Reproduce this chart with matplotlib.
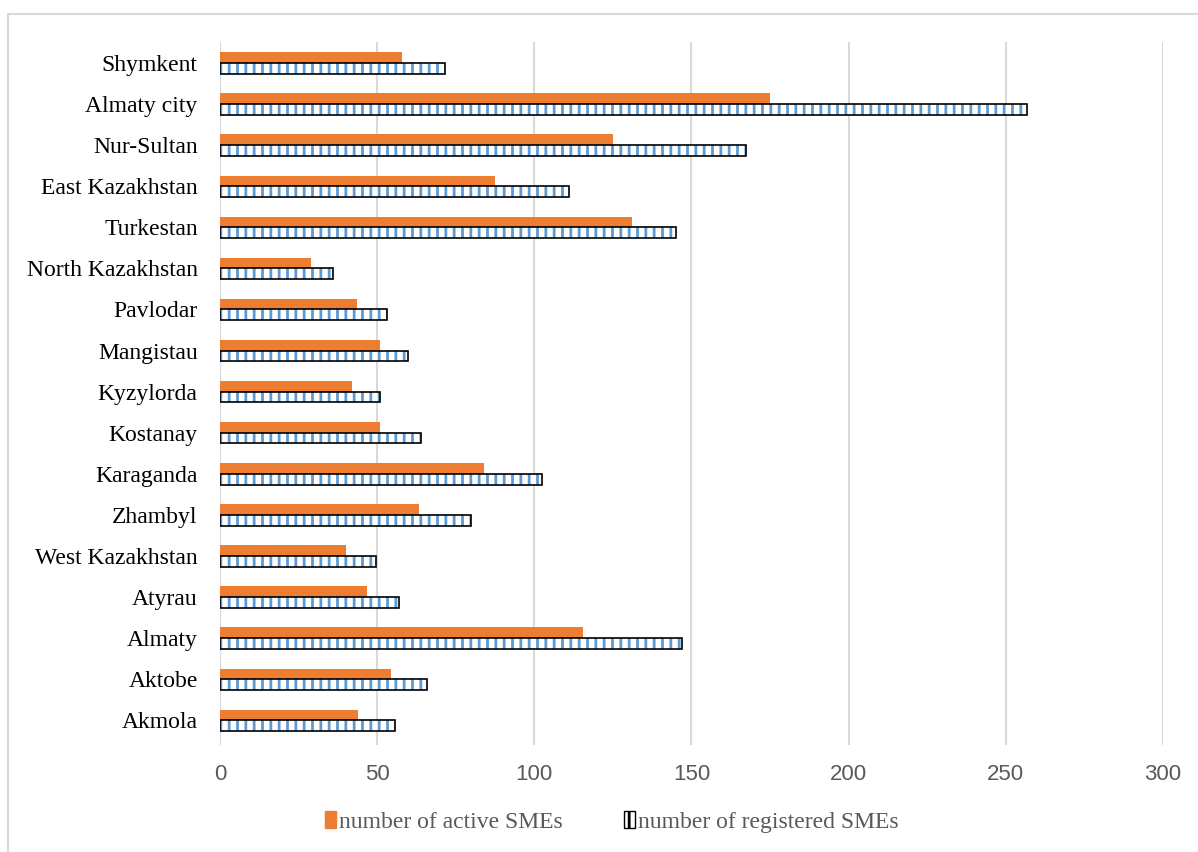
"""
Active vs registered SMEs by region of Kazakhstan, horizontal bar chart.
"""

import matplotlib
matplotlib.use("Agg")
import matplotlib.pyplot as plt
from matplotlib.patches import Patch, Rectangle
import numpy as np


REGIONS = [
    "Akmola", "Aktobe", "Almaty", "Atyrau", "West Kazakhstan", "Zhambyl",
    "Karaganda", "Kostanay", "Kyzylorda", "Mangistau", "Pavlodar",
    "North Kazakhstan", "Turkestan", "East Kazakhstan", "Nur-Sultan",
    "Almaty city", "Shymkent",
]
ACTIVE = [44, 54.4, 115.6, 46.7, 40, 63.2, 84, 51, 42.1, 51, 43.7,
          28.9, 131, 87.5, 125, 175, 58]
REGISTERED = [55.7, 66, 147.1, 57, 49.6, 80, 102.5, 64, 51, 59.7, 53,
              36, 145, 111, 167.5, 256.6, 71.6]
XTICKS = [0, 50, 100, 150, 200, 250, 300]

ORANGE = "#ED7D31"
BLUE = "#5B9BD5"
GRID = "#D9D9D9"
TEXT = "#595959"


def main():
    plt.rcParams["hatch.linewidth"] = 2.0

    fig = plt.figure(figsize=(11.98, 8.52), dpi=100)
    ax = fig.add_axes([0.1836, 0.1256, 0.7872, 0.8251])

    # light outer frame like the office chart area
    fig.patches.append(Rectangle((8 / 1198, -0.01), 1.0, 1 - 14 / 852 + 0.01,
                                 transform=fig.transFigure, fill=False,
                                 edgecolor=GRID, linewidth=1.5))

    y = np.arange(len(REGIONS))
    h = 0.26

    ax.barh(y + h / 2, ACTIVE, height=h, color=ORANGE, zorder=3)
    # hatched registered bars: blue hatch on white, black outline on top
    ax.barh(y - h / 2, REGISTERED, height=h, facecolor="white",
            edgecolor=BLUE, hatch="||", linewidth=0, zorder=3)
    ax.barh(y - h / 2, REGISTERED, height=h, fill=False,
            edgecolor="black", linewidth=1.2, zorder=4)

    ax.set_xlim(0, 300)
    ax.set_ylim(-0.6, 16.51)
    ax.set_xticks(XTICKS)
    ax.set_yticks(y)
    ax.set_yticklabels(REGIONS, fontfamily="Liberation Serif",
                       fontsize=17, color="black")
    ax.tick_params(axis="x", length=0, pad=14, labelsize=16,
                   labelcolor=TEXT)
    ax.tick_params(axis="y", length=0, pad=16)
    for lab in ax.get_xticklabels():
        lab.set_fontfamily("Liberation Sans")

    ax.grid(axis="x", color=GRID, linewidth=1.5, zorder=0)
    ax.set_axisbelow(True)
    for side in ax.spines:
        ax.spines[side].set_visible(False)

    handles = [
        Patch(facecolor=ORANGE, edgecolor=ORANGE, label="number of active SMEs"),
        Patch(facecolor="white", edgecolor="black", hatch="||",
              label="number of registered SMEs"),
    ]
    fig.legend(handles=handles, loc="center", ncol=2,
               bbox_to_anchor=(612 / 1198, 1 - 822 / 852), frameon=False,
               prop={"family": "Liberation Serif", "size": 17},
               labelcolor=TEXT, handlelength=0.45, handleheight=0.75,
               handletextpad=0.15, columnspacing=2.6)

    fig.savefig("out.png", dpi=100)


if __name__ == "__main__":
    main()
